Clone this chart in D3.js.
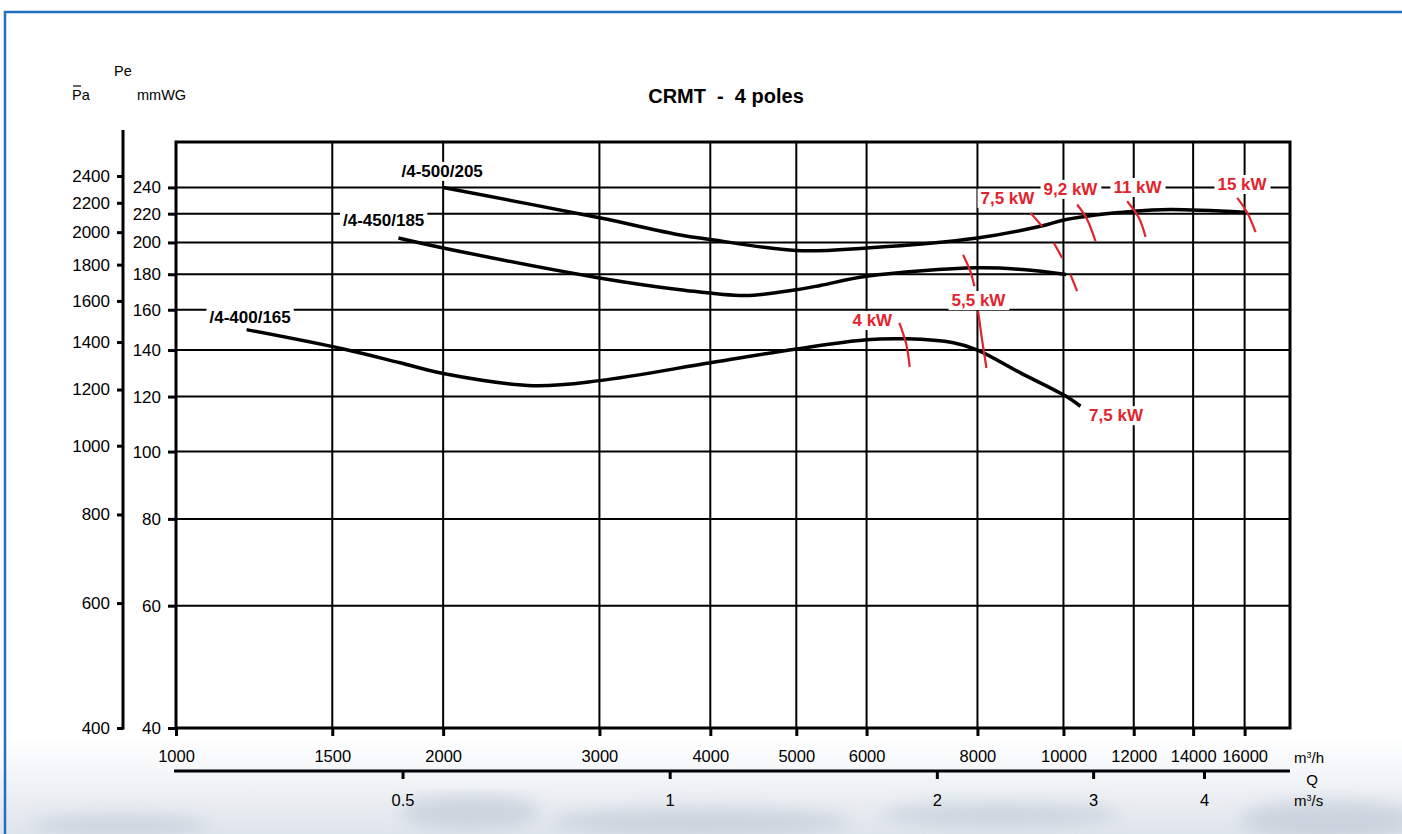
<!DOCTYPE html>
<html>
<head>
<meta charset="utf-8">
<script src="https://cdn.jsdelivr.net/npm/d3@7"></script>
<style>
  html, body { margin: 0; padding: 0; background: #fff; }
  svg { display: block; font-family: "Liberation Sans", Arial, Helvetica, sans-serif; }
</style>
</head>
<body>
<div id="chart"></div>
<script>
// flow ticks (m3/h) and the second flow scale (m3/s)
const flowTicks = [1000, 1500, 2000, 3000, 4000, 5000, 6000, 8000, 10000, 12000, 14000, 16000];
const flowTicksSec = [0.5, 1, 2, 3, 4];
// pressure ticks
const mmTicks = [40, 60, 80, 100, 120, 140, 160, 180, 200, 220, 240];
const paTicks = [400, 600, 800, 1000, 1200, 1400, 1600, 1800, 2000, 2200, 2400];

// fan curves: [Q m3/h, Pe mmWG]
const curve500 = [[2000, 240], [3000, 217], [3700, 205], [4000, 202], [5000, 194.7], [6000, 196.4],
  [8000, 203], [9420, 211], [10070, 215.8], [12000, 221.8], [13200, 223], [16000, 221]];
const curve450 = [[1781, 203], [2000, 196.4], [3000, 177.8], [3700, 171], [4380, 167.7], [5000, 171],
  [5321, 173.4], [6000, 178.8], [8000, 183.9], [9000, 182.8], [10070, 179.8]];
const curve400 = [[1201, 149.8], [1544, 140.5], [1789, 134.2], [2000, 129.5], [2528, 124.4], [3000, 126.5],
  [4000, 134.2], [5000, 140.5], [6000, 144.9], [6650, 145.3], [7516, 143.4], [8000, 140],
  [8944, 129.8], [10070, 120.1], [10452, 116.2]];
const curveNames = ["/4-500/205", "/4-450/185", "/4-400/165"];
const curveLabelAt = [[1995, 253.5], [1714, 215.4], [1212, 156.2]];

// motor power limit marks
const powerMarks = [
  [[9180, 220.6], [9462, 211]],
  [[9753, 199.8], [9966, 190]],
  [[10184, 179.8], [10361, 170.2]],
  [[10361, 226.8], [10634, 215.8], [10868, 200.8]],
  [[11798, 229.3], [12161, 217], [12375, 203.7]],
  [[15697, 231.9], [16112, 220.6], [16463, 206.9]],
  [[7707, 192], [7850, 182], [7937, 173]],
  [[8013, 159.2], [8096, 144.9], [8189, 131.9]],
  [[6533, 153.2], [6653, 142.5], [6710, 132.4]]
];
const powerNames = ["7,5 kW", "9,2 kW", "11 kW", "15 kW", "5,5 kW", "4 kW", "7,5 kW"];
const powerLabelAt = [[8647, 231.8], [10184, 238.8], [12118, 240.3], [15893, 242.7], [8021, 165.2], [6090, 154.6], [11462, 112.8]];

const W = 1402, H = 834;
const mLeft = 176, mRight = 1290, mTop = 142, mBottom = 728;
const red = "#e3232c";

const svg = d3.select("#chart").append("svg")
  .attr("width", W)
  .attr("height", H);

// faint background photo at the bottom
const defs = svg.append("defs");
const grad = defs.append("linearGradient").attr("id", "bg").attr("x1", 0).attr("y1", 0).attr("x2", 0).attr("y2", 1);
grad.append("stop").attr("offset", "0%").attr("stop-color", "#ffffff");
grad.append("stop").attr("offset", "100%").attr("stop-color", "#dfe5ec");
defs.append("filter").attr("id", "blur").append("feGaussianBlur").attr("stdDeviation", 8);
svg.append("rect").attr("x", 0).attr("y", 738).attr("width", W).attr("height", H - 738).attr("fill", "url(#bg)");
const blobs = svg.append("g").attr("filter", "url(#blur)").attr("opacity", 0.55);
[[120, 825, 90, 10], [470, 812, 70, 18], [700, 822, 150, 14], [1000, 815, 120, 12], [1330, 820, 90, 20]]
  .forEach(b => blobs.append("ellipse").attr("cx", b[0]).attr("cy", b[1]).attr("rx", b[2]).attr("ry", b[3]).attr("fill", "#b7c3d0"));

// blue frame
svg.append("path").attr("d", `M5,${H} V12 H${W}`).attr("fill", "none").attr("stroke", "#2170c0").attr("stroke-width", 2.5);

const x = d3.scaleLog().domain([1000, 18000]).range([mLeft, mRight]);
const xs = d3.scaleLog().domain([1000 / 3600, 18000 / 3600]).range([mLeft, mRight]);
const y = d3.scaleLog().domain([40, 279]).range([mBottom, mTop]);
const yPa = d3.scaleLog().domain([400, 2680]).range([mBottom, mTop]);

// grid
svg.append("g").selectAll("line").data(flowTicks.slice(1)).join("line")
  .attr("x1", d => x(d)).attr("x2", d => x(d)).attr("y1", mTop).attr("y2", mBottom)
  .attr("stroke", "#000").attr("stroke-width", 2);
svg.append("g").selectAll("line").data(mmTicks.slice(1)).join("line")
  .attr("x1", mLeft).attr("x2", mRight).attr("y1", d => y(d)).attr("y2", d => y(d))
  .attr("stroke", "#000").attr("stroke-width", 2);

// frame of plot
svg.append("rect").attr("x", mLeft).attr("y", mTop).attr("width", mRight - mLeft).attr("height", mBottom - mTop)
  .attr("fill", "none").attr("stroke", "#000").attr("stroke-width", 3);

function styleAxis(g, size) {
  g.select(".domain").remove();
  g.selectAll(".tick line").attr("stroke", "#000").attr("stroke-width", 3);
  g.selectAll(".tick text").attr("fill", "#000").style("font-size", size + "px")
    .style("font-family", "'Liberation Sans', Arial, sans-serif");
}

// x axis m3/h
svg.append("g").attr("transform", `translate(0,${mBottom})`)
  .call(d3.axisBottom(x).tickValues(flowTicks).tickFormat(d3.format("d")).tickSize(8).tickPadding(14))
  .call(g => styleAxis(g, 16.5));

// x axis m3/s
svg.append("line").attr("x1", mLeft - 2).attr("x2", mRight).attr("y1", 771).attr("y2", 771)
  .attr("stroke", "#000").attr("stroke-width", 3);
svg.append("g").attr("transform", "translate(0,771)")
  .call(d3.axisBottom(xs).tickValues(flowTicksSec).tickFormat(d => d).tickSize(8).tickPadding(15))
  .call(g => styleAxis(g, 16.5));

// mmWG axis
svg.append("g").attr("transform", `translate(${mLeft},0)`)
  .call(d3.axisLeft(y).tickValues(mmTicks).tickFormat(d3.format("d")).tickSize(8).tickPadding(7))
  .call(g => styleAxis(g, 17));

// Pa axis
svg.append("line").attr("x1", 123).attr("x2", 123).attr("y1", 130).attr("y2", mBottom + 1.5)
  .attr("stroke", "#000").attr("stroke-width", 3);
svg.append("g").attr("transform", "translate(123,0)")
  .call(d3.axisLeft(yPa).tickValues(paTicks).tickFormat(d3.format("d")).tickSize(6).tickPadding(7))
  .call(g => styleAxis(g, 17));

// unit labels
const unit = svg.append("g").attr("fill", "#000").style("font-size", "14.5px");
unit.append("text").attr("x", 72).attr("y", 100).text("Pa");
unit.append("line").attr("x1", 73).attr("x2", 81).attr("y1", 86).attr("y2", 86).attr("stroke", "#000").attr("stroke-width", 1.2);
unit.append("text").attr("x", 114).attr("y", 76).text("Pe");
unit.append("text").attr("x", 137).attr("y", 100).text("mmWG");
unit.append("text").attr("x", 1294).attr("y", 763).style("font-size", "15px").html("m<tspan dy='-5' style='font-size:9px'>3</tspan><tspan dy='5'>/h</tspan>");
unit.append("text").attr("x", 1312).attr("y", 785).attr("text-anchor", "middle").style("font-size", "15px").text("Q");
unit.append("text").attr("x", 1294).attr("y", 806).style("font-size", "15px").html("m<tspan dy='-5' style='font-size:9px'>3</tspan><tspan dy='5'>/s</tspan>");

// title
svg.append("text").attr("x", 726).attr("y", 103).attr("text-anchor", "middle")
  .style("white-space", "pre")
  .style("font-size", "20px").style("font-weight", "bold").text("CRMT  -  4 poles");

// fan curves
const line = d3.line().x(d => x(d[0])).y(d => y(d[1])).curve(d3.curveCatmullRom.alpha(0.5));
svg.append("g").selectAll("path").data([curve500, curve450, curve400]).join("path")
  .attr("d", line).attr("fill", "none").attr("stroke", "#000").attr("stroke-width", 3.5)
  .attr("stroke-linecap", "butt");

// power marks
const markLine = d3.line().x(d => x(d[0])).y(d => y(d[1])).curve(d3.curveNatural);
svg.append("g").selectAll("path").data(powerMarks).join("path")
  .attr("d", markLine).attr("fill", "none").attr("stroke", red).attr("stroke-width", 2.2);

// labels with white boxes
function boxedLabel(g, text, pos, color) {
  const t = g.append("text").attr("x", x(pos[0])).attr("y", y(pos[1]))
    .attr("text-anchor", "middle").attr("dy", "0.35em")
    .style("font-size", "17px").style("font-weight", "bold").attr("fill", color).text(text);
  const b = t.node().getBBox();
  g.insert("rect", () => t.node()).attr("x", b.x - 3).attr("y", b.y).attr("width", b.width + 6).attr("height", b.height)
    .attr("fill", "#fff");
}
const labels = svg.append("g");
curveNames.forEach((n, i) => boxedLabel(labels, n, curveLabelAt[i], "#000"));
powerNames.forEach((n, i) => boxedLabel(labels, n, powerLabelAt[i], red));
</script>
</body>
</html>
